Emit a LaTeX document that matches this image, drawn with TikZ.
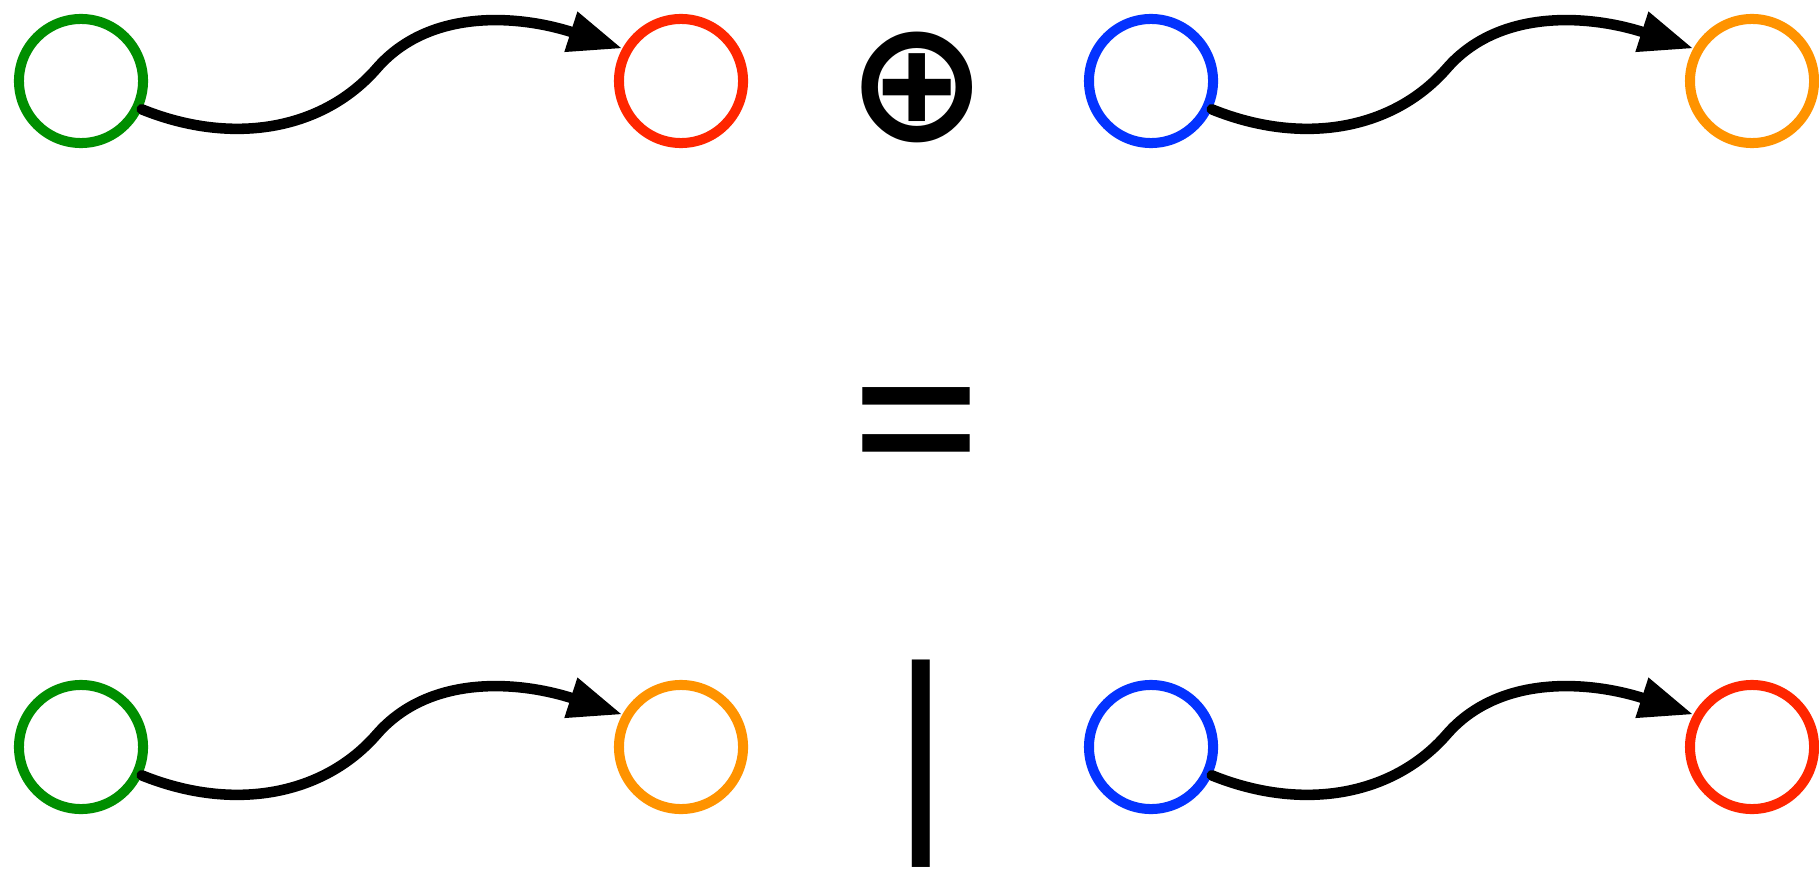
\documentclass[tikz,border=0pt]{standalone}
\usepackage{fontspec}
\usetikzlibrary{arrows.meta}
\newfontfamily\opfont{Liberation Sans}
\newfontfamily\eqfont{TeX Gyre Heros}
\newfontfamily\symfont{DejaVu Sans}
\definecolor{cgreen}{RGB}{0,143,0}
\definecolor{cred}{RGB}{255,38,0}
\definecolor{cblue}{RGB}{4,51,255}
\definecolor{corange}{RGB}{255,147,0}
\begin{document}
\begin{tikzpicture}[x=0.01cm,y=-0.01cm,
  ring/.style={circle, draw, line width=2.85pt, minimum size=1.24cm, inner sep=0pt},
  arr/.style={line width=3pt, line cap=round, -{Triangle[length=15.4pt,width=11.2pt]}},
  dip/.style={out=-22, in=229, out distance=1cm, in distance=0.8cm},
  rise/.style={out=49, in=162, out distance=0.8cm, in distance=1.09cm},
  op/.style={inner sep=0pt, outer sep=0pt}]
\useasboundingbox (0,0) rectangle (1819,870);
% top row
\node[ring, draw=cgreen]  (g1) at (81,81) {};
\node[ring, draw=cred]    (r1) at (681,81) {};
\node[ring, draw=cblue]   (b1) at (1151,81) {};
\node[ring, draw=corange] (o1) at (1752,81) {};
% bottom row
\node[ring, draw=cgreen]  (g2) at (81,747) {};
\node[ring, draw=corange] (o2) at (681,747) {};
\node[ring, draw=cblue]   (b2) at (1151,747) {};
\node[ring, draw=cred]    (r2) at (1752,747) {};
% connectors
\draw[arr] (g1.-25) to[dip] ++(235,-41) to[rise] (r1.151);
\draw[arr] (b1.-25) to[dip] ++(235,-41) to[rise] (o1.151);
\draw[arr] (g2.-25) to[dip] ++(235,-41) to[rise] (o2.151);
\draw[arr] (b2.-25) to[dip] ++(235,-41) to[rise] (r2.151);
% operators
\node[op] (plus) at (917,87) {\fontsize{48pt}{48pt}\selectfont\symfont\bfseries ⊕};
\node[op, anchor=north] (eq) at (916.5,388) {\scalebox{1.082}[1.167]{\fontsize{63pt}{63pt}\selectfont\eqfont =}};
\node[op, anchor=north] (bar) at (921,660) {\fontsize{63pt}{63pt}\selectfont\opfont |};
\end{tikzpicture}
\end{document}
